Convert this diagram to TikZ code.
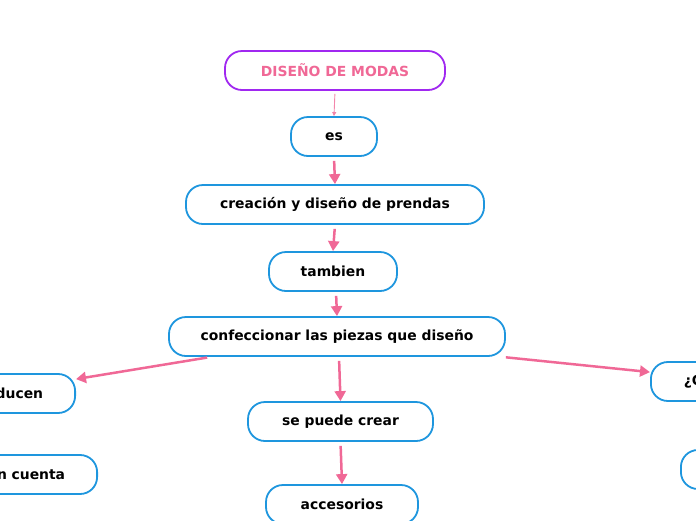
\documentclass[tikz,border=0pt]{standalone}
\usepackage{fontspec}
\setmainfont{DejaVu Sans}
\usetikzlibrary{arrows.meta}
\definecolor{mapblue}{RGB}{30,150,222}
\definecolor{mappink}{RGB}{240,104,150}
\definecolor{mappurple}{RGB}{160,40,240}
\begin{document}
\begin{tikzpicture}[
  x=1pt, y=-1pt,
  box/.style={rectangle, rounded corners=17pt, draw=mapblue, line width=1.8pt, fill=white,
    font=\fontsize{13.9}{16}\selectfont\bfseries, minimum height=39pt, inner xsep=0pt, inner ysep=0pt},
  title/.style={box, draw=mappurple, text=mappink},
  lcut/.style={box, text width=120pt, align=right, inner xsep=32pt},
  rcut/.style={box, text width=120pt, align=left, inner xsep=33pt},
  link/.style={line width=2.5pt, mappink, -{Triangle[length=10pt,width=11pt]}, shorten <=4pt},
  thinlink/.style={line width=0.9pt, mappink!80, -{Triangle[length=4pt,width=4pt]}, shorten <=3pt}
]
  \useasboundingbox (0,0) rectangle (696,520);
  \clip (0,0) rectangle (696,520);

  %% ── Main column ───────────────────────────────────────────────────────────
  \node[title, minimum width=220pt] (diseno) at (335,70.5) {DISEÑO DE MODAS};
  \node[box, minimum width=86pt] (es) at (334,136.5) {es};
  \node[box, minimum width=298pt] (creacion) at (335,204.5) {creación y diseño de prendas};
  \node[box, minimum width=128pt] (tambien) at (333,271.5) {tambien};
  \node[box, minimum width=336pt] (confec) at (337,336.5) {confeccionar las piezas que diseño};
  \node[box, minimum width=185pt] (crear) at (340.5,421.5) {se puede crear};
  \node[box, minimum width=152pt] (acces) at (342,504.5) {accesorios};

  %% ── Side nodes (cut by the page edge) ─────────────────────────────────────
  \node[lcut, anchor=east] (producen) at (76,393.5) {ducen};
  \node[lcut, anchor=east] (cuenta) at (98,474.5) {n cuenta};
  \node[rcut, anchor=west] (pregunta) at (650,381.5) {¿C};
  \node[rcut, anchor=west] (otro) at (680,469.5) {};

  %% ── Connectors ────────────────────────────────────────────────────────────
  \draw[thinlink] (diseno.south) -- (es.north);
  \draw[link] (es.south) -- (creacion.north);
  \draw[link] (creacion.south) -- (tambien.north);
  \draw[link] ([xshift=3pt]tambien.south) -- (confec.north);
  % confeccionar -> left branch
  \draw[link] ([xshift=43pt]confec.south west) -- ([yshift=-6pt]producen.north east);
  % confeccionar -> se puede crear
  \draw[link] ([xshift=2pt]confec.south) -- (crear.north);
  % confeccionar -> right branch
  \draw[link] ([xshift=-4pt]confec.south east) -- ([yshift=-11pt]pregunta.north west);
  \draw[link] (crear.south) -- (acces.north);
\end{tikzpicture}
\end{document}
